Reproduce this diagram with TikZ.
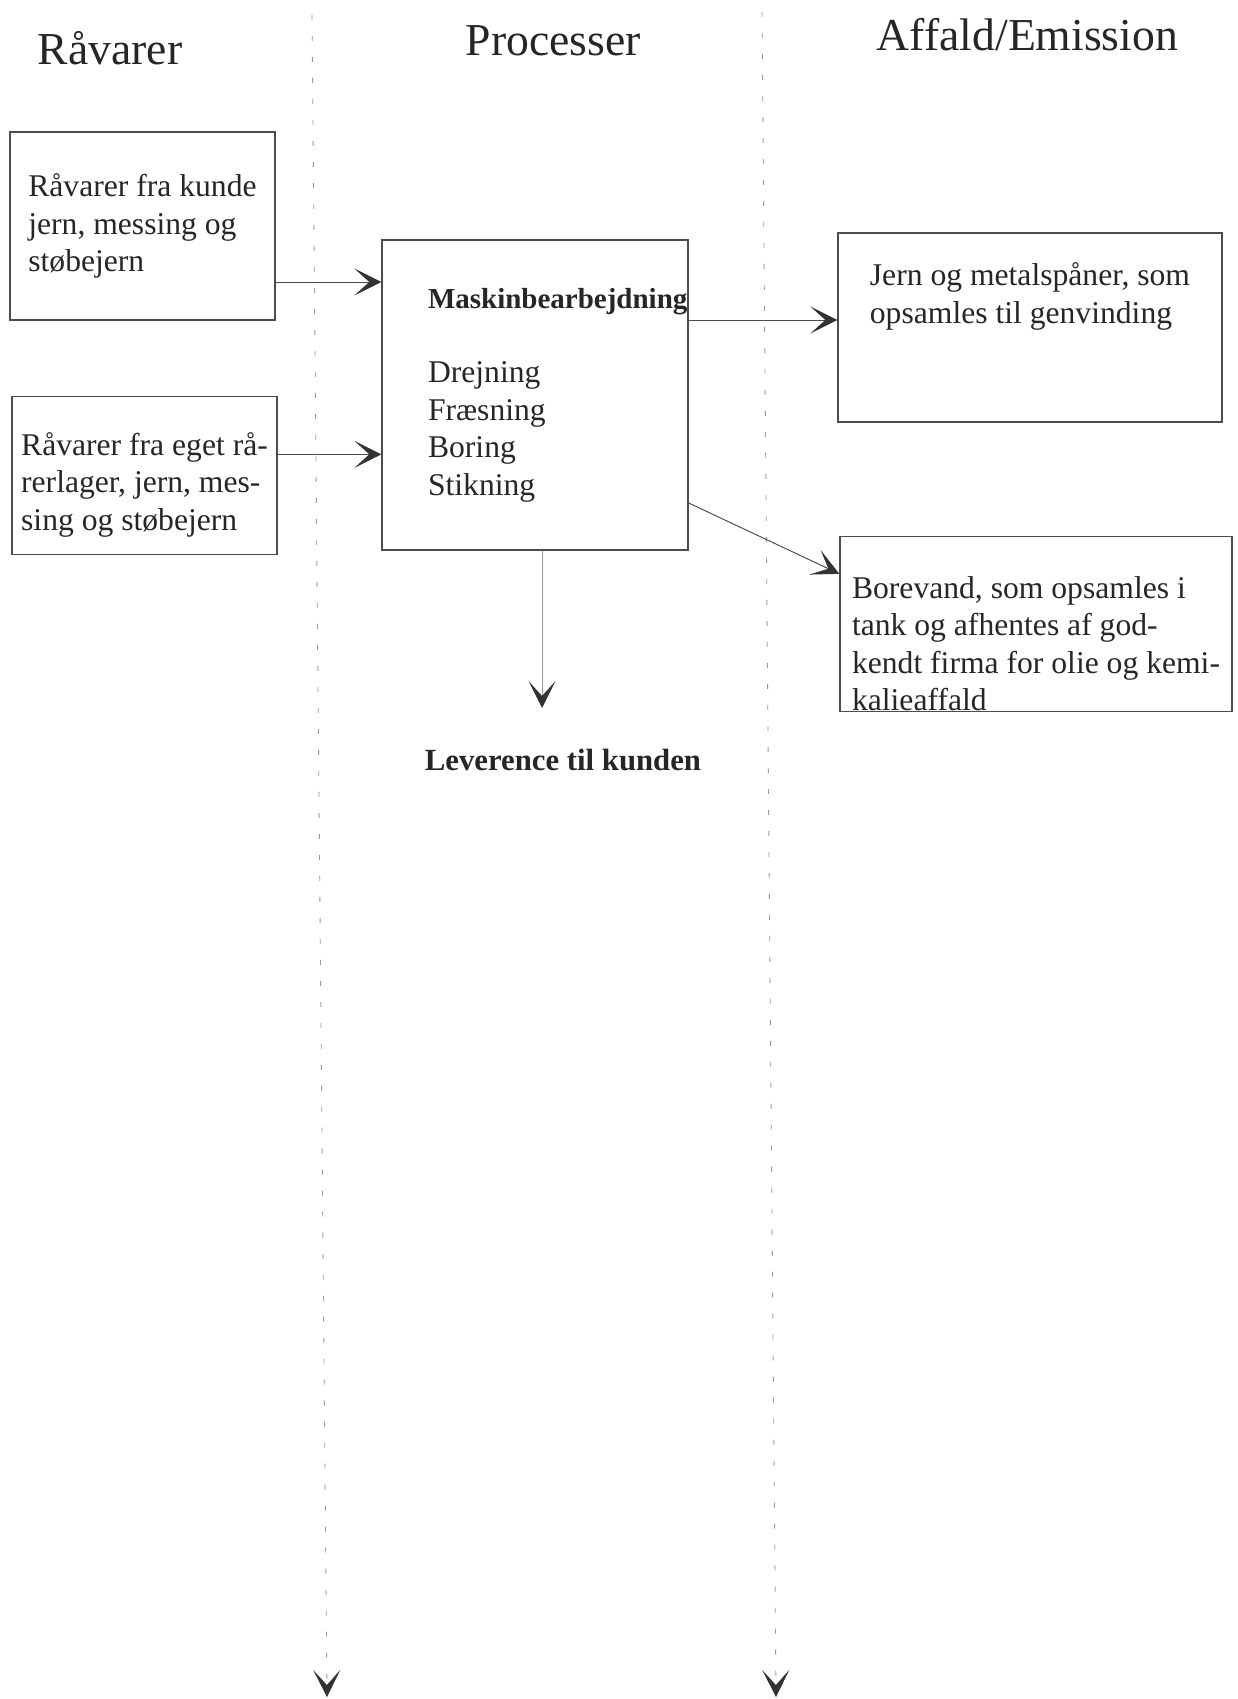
\documentclass[tikz,border=0pt]{standalone}
\usepackage{fontspec}
\setmainfont{Liberation Serif}
\usetikzlibrary{positioning,arrows.meta}

\begin{document}
\begin{tikzpicture}[
  x=0.02cm, y=-0.02cm,
  >={Stealth[length=5.4mm, width=5.4mm, inset=3mm, color=black!80]},
  box/.style={draw=black!70, line width=0.8pt, align=left, inner sep=4pt, text=black!85, font={\fontsize{18}{21.3}\selectfont}},
  arrow/.style={->, draw=black!70, line width=0.55pt},
  divider/.style={->, draw=black!40, line width=0.5pt, dash pattern=on 1mm off 3.2mm},
  title/.style={anchor=base, inner sep=0pt, text=black!85, font={\fontsize{26}{30}\selectfont}},
]
\useasboundingbox (0,0) rectangle (1237,1699);

% column headings and dividers
\node[title] (tRaa) at (110,65) {Råvarer};
\node[title] (tProc) at (553.5,56) {Processer};
\node[title] (tAff) at (1027.5,51) {Affald/Emission};
\coordinate (d1top) at (312,15);
\coordinate (d1bot) at (327,1697);
\coordinate (d2top) at (762,12);
\coordinate (d2bot) at (776,1697);
\draw[divider] (d1top) -- (d1bot);
\draw[divider] (d2top) -- (d2bot);

% boxes
\node[box, minimum width=53mm, minimum height=37.6mm] (kunde) at (142.5,226) {Råvarer fra kunde\\jern, messing og\\støbejern};
\node[box, minimum width=53mm, minimum height=31.6mm, below=15mm of kunde, xshift=0.4mm] (lager) {\rule{0pt}{8.4mm}Råvarer fra eget rå-\\rerlager, jern, mes-\\sing og støbejern};
\node[box, minimum width=61.2mm, minimum height=62mm, text width=42.8mm] (proc) at (535,395) {\mbox{\fontsize{16.5}{21.3}\selectfont\bfseries Maskinbearbejdning}\\[7.5mm]Drejning\\Fræsning\\Boring\\Stikning};
\node[box, minimum width=76.8mm, minimum height=37.8mm] (spaan) at (1030,327.5) {Jern og metalspåner, som\\opsamles til genvinding\rule[-13.8mm]{0pt}{0pt}};
\node[box, inner ysep=0pt, minimum width=78.4mm, minimum height=35mm, below=22.6mm of spaan, xshift=1.2mm] (vand) {\rule{0pt}{12.4mm}Borevand, som opsamles i\\tank og afhentes af god-\\kendt firma for olie og kemi-\\kalieaffald};
\node[anchor=base, inner sep=0pt, text=black!85, font={\fontsize{17.5}{21}\selectfont\bfseries}] (lev) at (563,770) {Leverence til kunden};
\coordinate (levtip) at (542,708);

% arrows
\draw[arrow] ([shift={(0,56)}]kunde.east) -- ([shift={(0,56)}]kunde.east -| proc.west);
\draw[arrow] ([shift={(0,-21)}]lager.east) -- ([shift={(0,-21)}]lager.east -| proc.west);
\draw[arrow] ([shift={(0,-75)}]proc.east) -- ([shift={(0,-75)}]proc.east -| spaan.west);
\draw[arrow] ([shift={(0,108)}]proc.east) -- ([shift={(0,-50)}]vand.west);
\draw[arrow, draw=black!40] (proc.south -| levtip) -- (levtip);
\end{tikzpicture}
\end{document}
